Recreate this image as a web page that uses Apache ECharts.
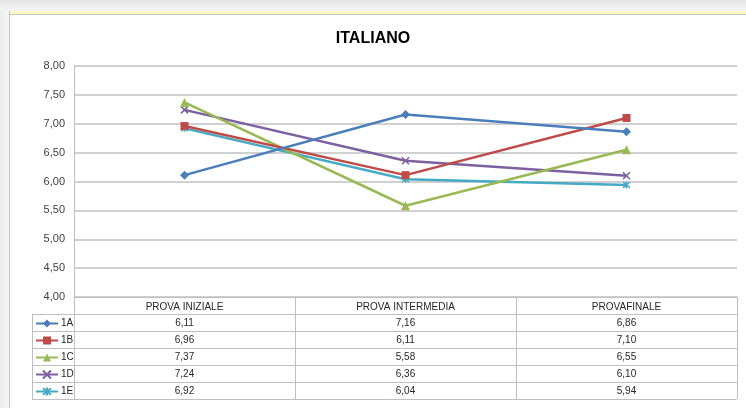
<!DOCTYPE html>
<html>
<head>
<meta charset="utf-8">
<script src="https://cdn.jsdelivr.net/npm/echarts@6/dist/echarts.min.js"></script>
<style>
  html, body { margin: 0; padding: 0; width: 746px; height: 408px; overflow: hidden; background: #fff; }
  #topbar { position: absolute; left: 0; top: 0; width: 746px; height: 11px; background: linear-gradient(#e4e4e4, #f5f5f5); }
  #yellow { position: absolute; left: 9px; top: 11px; width: 737px; height: 3px; background: #fbf7c6; border-bottom: 1px solid #c9c8bc; }
  #leftbar { position: absolute; left: 0; top: 11px; width: 9px; height: 397px; background: linear-gradient(90deg, #ebebeb, #f7f7f7); border-right: 1px solid #c4c4c4; }
  #chart { position: absolute; left: 0; top: 0; width: 746px; height: 408px; }
</style>
</head>
<body>
<div id="topbar"></div>
<div id="yellow"></div>
<div id="leftbar"></div>
<div id="chart"></div>
<script>
const categories = ['PROVA INIZIALE', 'PROVA INTERMEDIA', 'PROVAFINALE'];
const seriesNames = ['1A', '1B', '1C', '1D', '1E'];
const v1A = [6.11, 7.16, 6.86];
const v1B = [6.96, 6.11, 7.10];
const v1C = [7.37, 5.58, 6.55];
const v1D = [7.24, 6.36, 6.10];
const v1E = [6.92, 6.04, 5.94];
const yTicks = [4, 4.5, 5, 5.5, 6, 6.5, 7, 7.5, 8];

const seriesValues = [v1A, v1B, v1C, v1D, v1E];
const colors = ['#4A7EBB', '#BE4B48', '#98B954', '#7D60A0', '#46AAC5'];
const symbols = [
  'diamond',
  'rect',
  'triangle',
  'path://M0,0L10,10M10,0L0,10',
  'path://M0,0L10,10M10,0L0,10M5,-1L5,11'
];
const symbolSizes = [9, 8, 9, 7, 7];

// layout constants
const W = 746, H = 408;
const GL = 74, GR = 737, GT = 66, GB = 297;
const ROW_H = 17;
const LEG_L = 32;
const fmt = v => v.toFixed(2).replace('.', ',');
const FONT = 'Liberation Sans';

const chart = echarts.init(document.getElementById('chart'), null, { renderer: 'canvas' });

const series = seriesNames.map((n, i) => {
  const isStroke = i >= 3;
  return {
    name: n,
    type: 'line',
    data: seriesValues[i],
    symbol: symbols[i],
    symbolSize: symbolSizes[i],
    showAllSymbol: true,
    lineStyle: { color: colors[i], width: 2.5 },
    itemStyle: isStroke
      ? { color: colors[i], borderColor: colors[i], borderWidth: 1.5 }
      : { color: colors[i], borderWidth: 0 },
    emphasis: { disabled: true },
    animation: false,
    z: 10 - i
  };
});

// table graphics (lines + cell text)
const g = [];
const lineStyle = { stroke: '#bfbfbf', lineWidth: 1 };
const nRows = seriesNames.length;
const tableBottom = GB + ROW_H * (nRows + 1);
for (let r = 1; r <= nRows + 1; r++) {
  const y = GB + ROW_H * r + 0.5;
  g.push({ type: 'line', shape: { x1: LEG_L, y1: y, x2: GR, y2: y }, style: lineStyle, silent: true });
}
g.push({ type: 'line', shape: { x1: LEG_L + 0.5, y1: GB + ROW_H, x2: LEG_L + 0.5, y2: tableBottom }, style: lineStyle, silent: true });
const colW = (GR - GL) / categories.length;
for (let c = 0; c <= categories.length; c++) {
  const x = Math.round(GL + colW * c) + 0.5;
  const y1 = c === 0 ? GT : GB;
  g.push({ type: 'line', shape: { x1: x, y1: y1, x2: x, y2: tableBottom }, style: lineStyle, silent: true });
}
for (let r = 0; r < nRows; r++) {
  for (let c = 0; c < categories.length; c++) {
    g.push({
      type: 'text',
      x: GL + colW * (c + 0.5),
      y: GB + ROW_H * (r + 1) + ROW_H / 2 + 1,
      style: {
        text: fmt(seriesValues[r][c]),
        fill: '#262626',
        font: '10px "' + FONT + '"',
        textAlign: 'center',
        textVerticalAlign: 'middle'
      },
      silent: true
    });
  }
}

chart.setOption({
  animation: false,
  backgroundColor: 'transparent',
  color: colors,
  title: {
    text: 'ITALIANO',
    left: 'center',
    top: 26,
    textStyle: { fontFamily: FONT, fontWeight: 'bold', fontSize: 16, color: '#000' }
  },
  grid: { left: GL, right: W - GR, top: GT, bottom: H - GB, containLabel: false },
  legend: {
    orient: 'vertical',
    left: LEG_L + 3,
    top: GB + ROW_H + 4.5,
    padding: 0,
    itemWidth: 22,
    itemHeight: 10,
    itemGap: 7,
    selectedMode: false,
    textStyle: { fontFamily: FONT, fontSize: 10, lineHeight: 10, color: '#262626', padding: [0, 0, 0, -2] },
    data: seriesNames
  },
  xAxis: {
    type: 'category',
    data: categories,
    boundaryGap: true,
    axisLine: { show: true, lineStyle: { color: '#bfbfbf', width: 1 } },
    axisTick: { show: false },
    axisLabel: { show: true, margin: 5, fontFamily: FONT, fontSize: 10, color: '#262626', interval: 0 },
    splitLine: { show: false }
  },
  yAxis: {
    type: 'value',
    min: yTicks[0],
    max: yTicks[yTicks.length - 1],
    interval: yTicks[1] - yTicks[0],
    axisLine: { show: false },
    axisTick: { show: false },
    axisLabel: { formatter: v => fmt(v), fontFamily: FONT, fontSize: 11, color: '#404040', margin: 9 },
    splitLine: { show: true, lineStyle: { color: '#c0c0c0', width: 1.5 } }
  },
  graphic: g,
  series: series
});
</script>
</body>
</html>
